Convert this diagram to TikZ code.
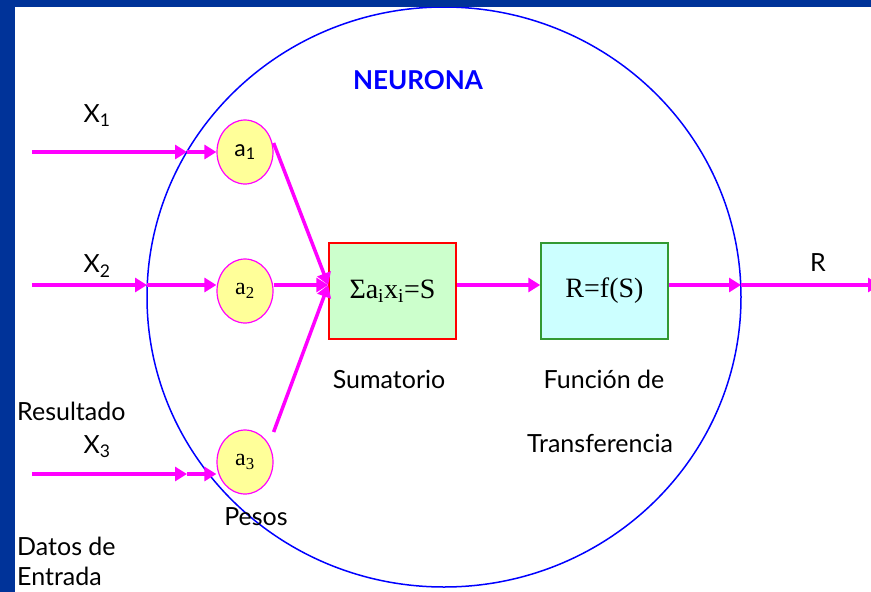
\documentclass[tikz,border=0pt]{standalone}
\usepackage{fontspec}
\setmainfont{Lato}
\newfontfamily\timesfont{Liberation Serif}
\usepackage{tikz}
\usetikzlibrary{shapes.geometric,arrows.meta,calc}
\definecolor{slideblue}{HTML}{003399}
\definecolor{pesoyellow}{HTML}{FFFF99}
\definecolor{sumgreen}{HTML}{CCFFCC}
\definecolor{funcyan}{HTML}{CCFFFF}
\definecolor{boxgreen}{HTML}{339933}
\definecolor{linkpink}{RGB}{255,0,255}
\definecolor{rimblue}{RGB}{0,0,255}
\definecolor{boxred}{RGB}{255,0,0}

\begin{document}
\begin{tikzpicture}[x=1pt, y=-1pt,
    peso/.style={ellipse, draw=linkpink, line width=1.2pt, fill=pesoyellow, minimum width=56pt, minimum height=64pt, inner sep=0pt},
    block/.style={rectangle, line width=1.5pt, minimum width=127pt, minimum height=96pt, inner sep=0pt, font=\timesfont\fontsize{28}{32}\selectfont},
    link/.style={-{Triangle[length=12pt,width=14pt]}, draw=linkpink, line width=3.5pt},
    txt/.style={inner sep=0pt, font=\fontsize{25}{31}\selectfont}
  ]
    \useasboundingbox (0,0) rectangle (871,592);

    % neurona
    \draw[rimblue, line width=1.5pt] (444,297) ellipse [x radius=297, y radius=290];
    \node[txt, text=rimblue, font=\bfseries\fontsize{26}{30}\selectfont] (neurona) at (418,80) {NEURONA};

    % pesos
    \node[peso, font=\fontsize{23}{26}\selectfont] (a1) at (245,152) {a\textsubscript{1}};
    \node[peso, font=\timesfont\fontsize{24}{26}\selectfont] (a2) at (245,291) {a\textsubscript{2}};
    \node[peso, font=\timesfont\fontsize{24}{26}\selectfont] (a3) at (245,462) {a\textsubscript{3}};

    \node[block, draw=boxred, fill=sumgreen] (sum) at (392.5,291) {Σa\textsubscript{i}x\textsubscript{i}=S};
    \node[block, draw=boxgreen, fill=funcyan] (fun) at (604.5,291) {R=f(S)};

    % entradas
    \coordinate (in1) at (32,152);
    \coordinate (m1) at (187,152);
    \coordinate (in2) at (32,285);
    \coordinate (m2) at (147,285);
    \coordinate (in3) at (32,474);
    \coordinate (m3) at (187,474);
    \coordinate (hub) at ($(sum.west)+(0,-6)$);
    \coordinate (m4) at (741,285);
    \coordinate (out) at (880,285);

    \draw[link] (in1) -- (m1);
    \draw[link] (m1) -- (a1);
    \draw[link] (in2) -- (m2);
    \draw[link] (m2) -- (m2 -| a2.west);
    \draw[link] (in3) -- (m3);
    \draw[link] (m3) -- (m3 -| a3.west);

    \draw[link] ($(a1.east)+(0,-9)$) -- (hub);
    \draw[link] (a2.east |- hub) -- (hub);
    \draw[link] ($(a3.east)+(0,-30)$) -- (hub);
    \draw[link] (sum.east |- hub) -- (fun.west |- hub);
    \draw[link] (fun.east |- hub) -- (m4);
    \draw[link] (m4) -- (out);

    % textos
    \node[txt] (x1) at (97,116) {X\textsubscript{1}};
    \node[txt] (x2) at (97,266) {X\textsubscript{2}};
    \node[txt] (x3) at (97,447) {X\textsubscript{3}};
    \node[txt] (r) at (818,263) {R};
    \node[txt, anchor=west] (resultado) at (17,411) {Resultado};
    \node[txt, anchor=west, align=left, font=\fontsize{25}{30}\selectfont] (datos) at (17,561) {Datos de\\Entrada};
    \node[txt] (pesos) at (256,517) {Pesos};
    \node[txt] (sumatorio) at (389,379) {Sumatorio};
    \node[txt] (funcion) at (604,379) {Función de};
    \node[txt] (transf) at (600,443) {Transferencia};

    % fondo
    \fill[slideblue] (0,0) rectangle (871,7);
    \fill[slideblue] (0,0) rectangle (15,592);
  \end{tikzpicture}
\end{document}
